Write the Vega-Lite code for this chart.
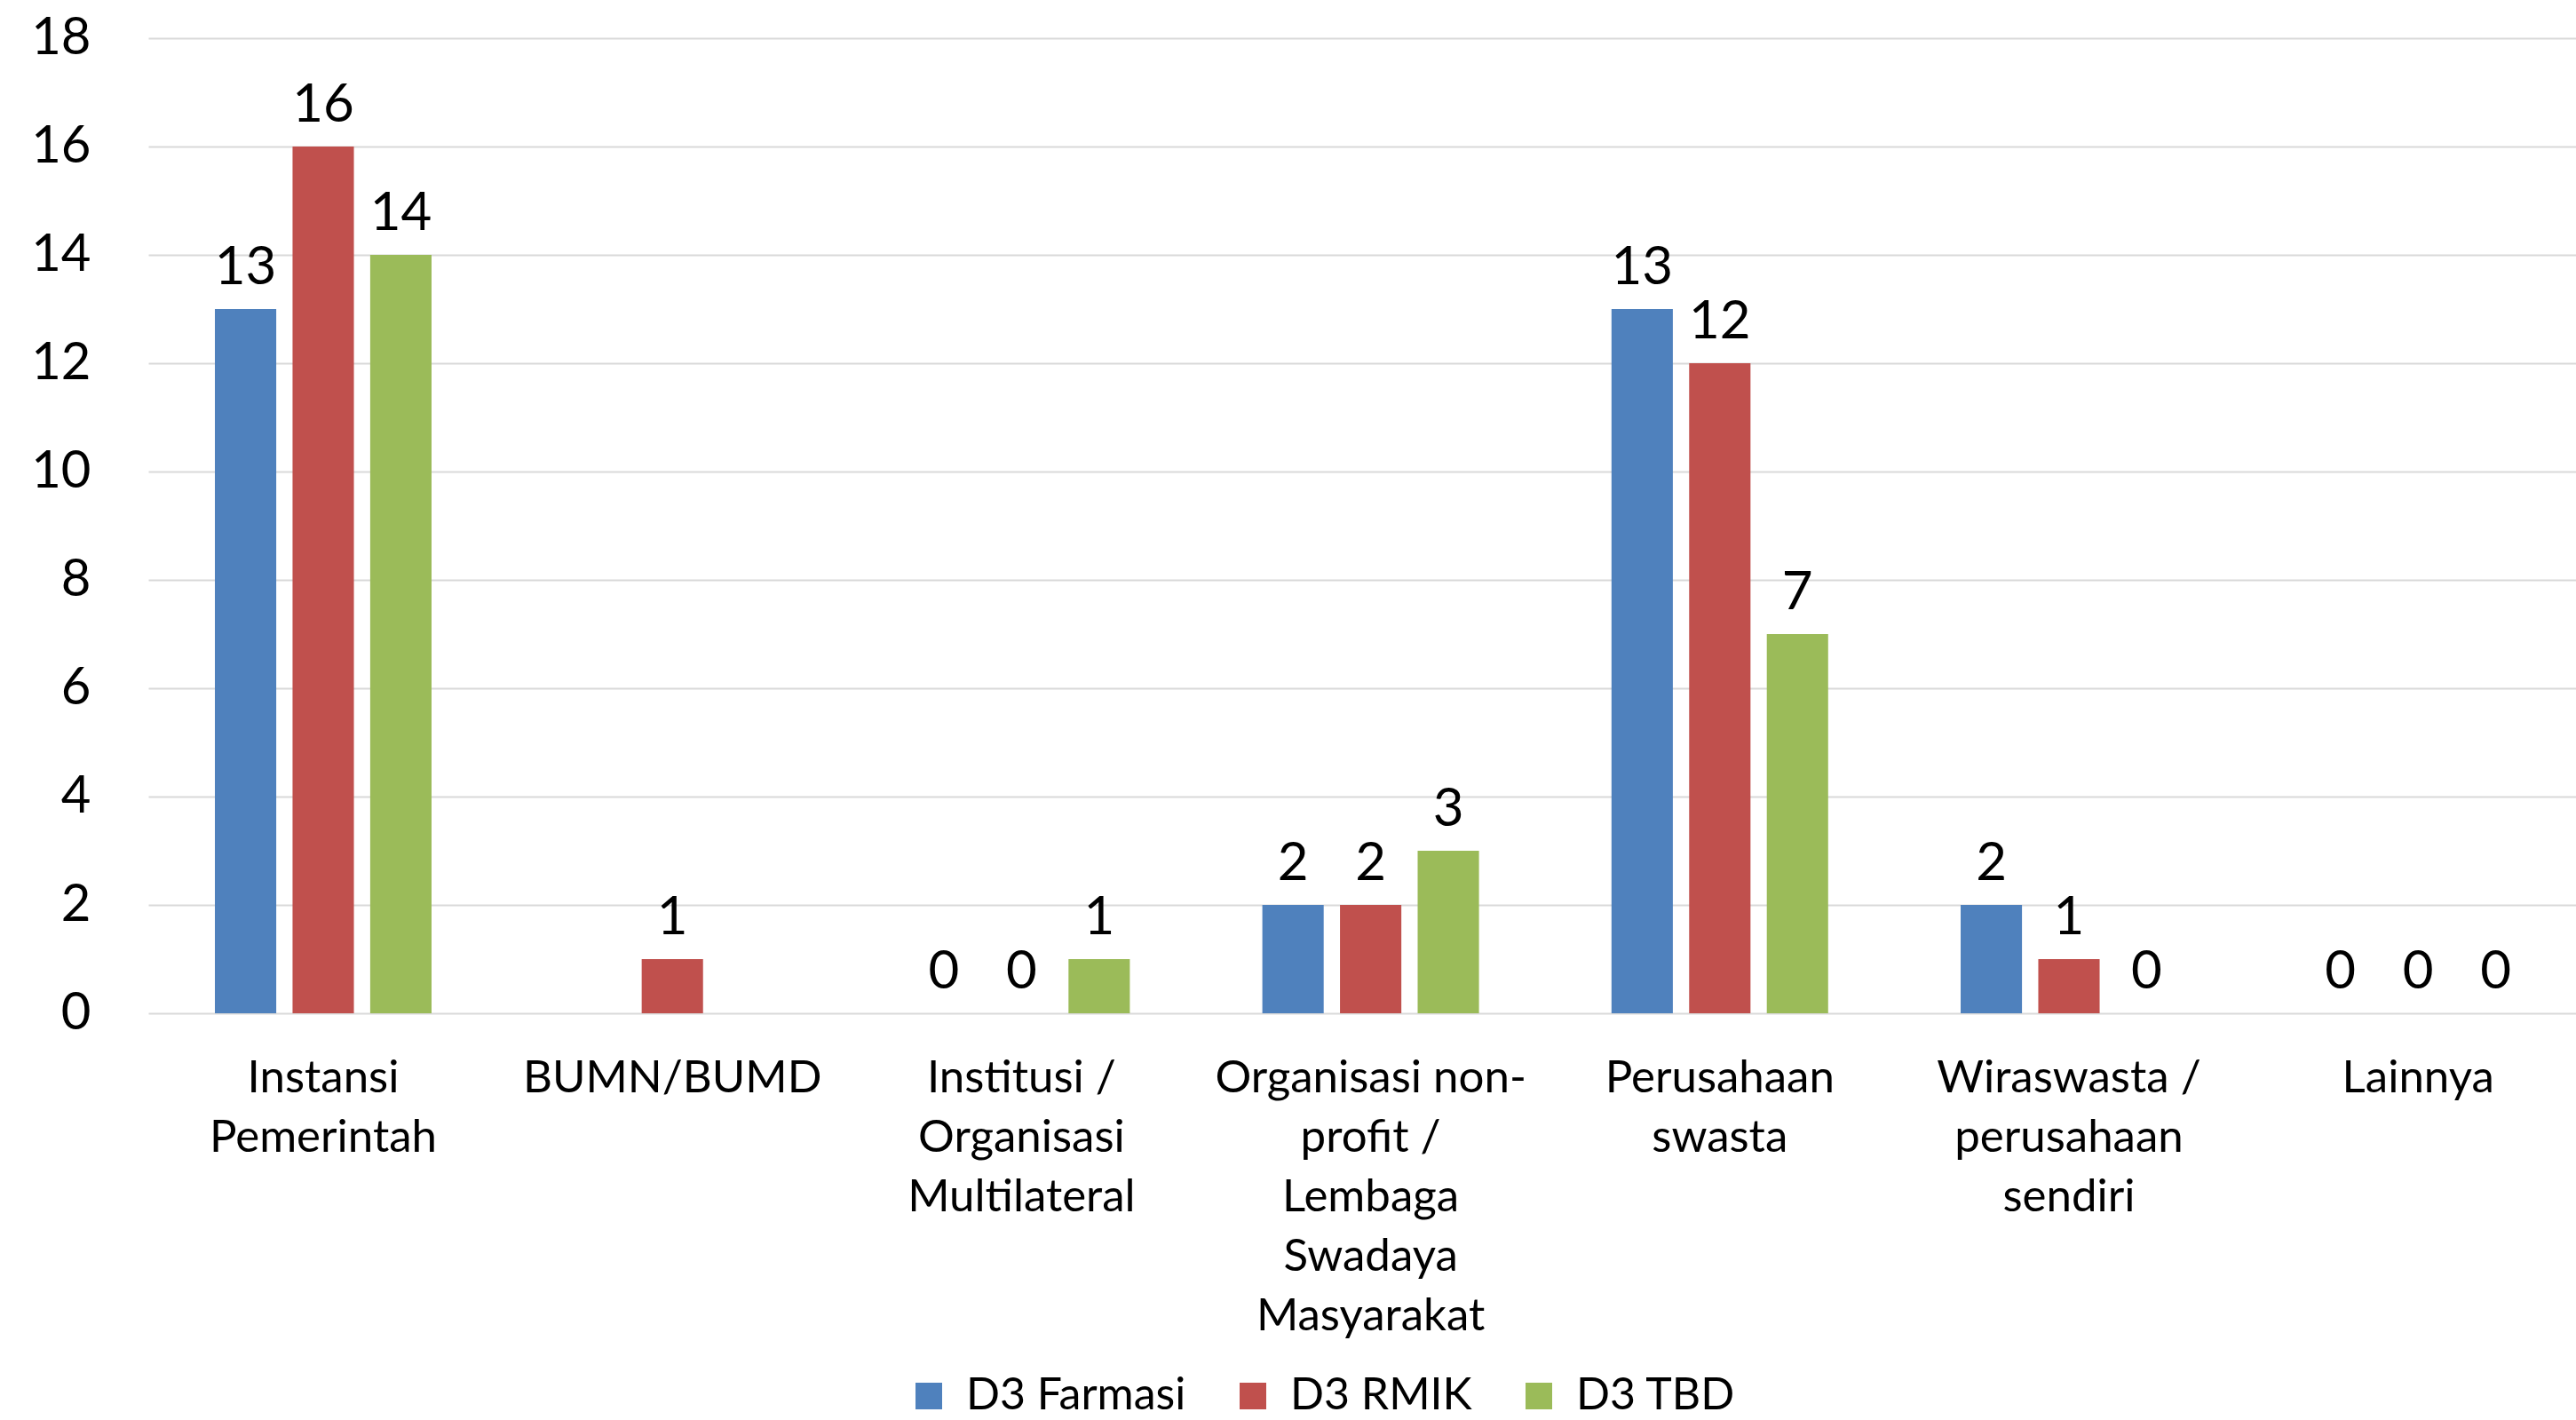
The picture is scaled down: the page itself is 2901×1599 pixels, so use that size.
{
  "$schema": "https://vega.github.io/schema/vega-lite/v6.json",
  "width": 2734,
  "height": 1098,
  "autosize": {"type": "none"},
  "padding": {"left": 167, "top": 43, "right": 0, "bottom": 458},
  "background": "white",
  "config": {
    "view": {"stroke": null},
    "font": "Lato",
    "axis": {"labelFont": "Lato", "labelColor": "#000000"},
    "legend": {"labelFont": "Lato"}
  },
  "data": {
    "values": [
      {"kategori": "Instansi Pemerintah", "prodi": "D3 Farmasi", "jumlah": 13},
      {"kategori": "Instansi Pemerintah", "prodi": "D3 RMIK", "jumlah": 16},
      {"kategori": "Instansi Pemerintah", "prodi": "D3 TBD", "jumlah": 14},
      {"kategori": "BUMN/BUMD", "prodi": "D3 RMIK", "jumlah": 1},
      {"kategori": "Institusi / Organisasi Multilateral", "prodi": "D3 Farmasi", "jumlah": 0},
      {"kategori": "Institusi / Organisasi Multilateral", "prodi": "D3 RMIK", "jumlah": 0},
      {"kategori": "Institusi / Organisasi Multilateral", "prodi": "D3 TBD", "jumlah": 1},
      {"kategori": "Organisasi non-profit / Lembaga Swadaya Masyarakat", "prodi": "D3 Farmasi", "jumlah": 2},
      {"kategori": "Organisasi non-profit / Lembaga Swadaya Masyarakat", "prodi": "D3 RMIK", "jumlah": 2},
      {"kategori": "Organisasi non-profit / Lembaga Swadaya Masyarakat", "prodi": "D3 TBD", "jumlah": 3},
      {"kategori": "Perusahaan swasta", "prodi": "D3 Farmasi", "jumlah": 13},
      {"kategori": "Perusahaan swasta", "prodi": "D3 RMIK", "jumlah": 12},
      {"kategori": "Perusahaan swasta", "prodi": "D3 TBD", "jumlah": 7},
      {"kategori": "Wiraswasta / perusahaan sendiri", "prodi": "D3 Farmasi", "jumlah": 2},
      {"kategori": "Wiraswasta / perusahaan sendiri", "prodi": "D3 RMIK", "jumlah": 1},
      {"kategori": "Wiraswasta / perusahaan sendiri", "prodi": "D3 TBD", "jumlah": 0},
      {"kategori": "Lainnya", "prodi": "D3 Farmasi", "jumlah": 0},
      {"kategori": "Lainnya", "prodi": "D3 RMIK", "jumlah": 0},
      {"kategori": "Lainnya", "prodi": "D3 TBD", "jumlah": 0}
    ]
  },
  "encoding": {
    "x": {
      "field": "kategori",
      "type": "nominal",
      "sort": null,
      "scale": {"paddingInner": 0.3795, "paddingOuter": 0.16635, "align": 0.5734, "round": false},
      "axis": {
        "title": null,
        "labelAngle": 0,
        "domain": false,
        "ticks": false,
        "labelFontSize": 51,
        "labelLineHeight": 67,
        "labelPadding": 48,
        "labelLimit": 0,
        "labelExpr": "datum.value == 'Instansi Pemerintah' ? ['Instansi', 'Pemerintah'] : datum.value == 'Institusi / Organisasi Multilateral' ? ['Institusi /', 'Organisasi', 'Multilateral'] : datum.value == 'Organisasi non-profit / Lembaga Swadaya Masyarakat' ? ['Organisasi non-', 'profit /', 'Lembaga', 'Swadaya', 'Masyarakat'] : datum.value == 'Perusahaan swasta' ? ['Perusahaan', 'swasta'] : datum.value == 'Wiraswasta / perusahaan sendiri' ? ['Wiraswasta /', 'perusahaan', 'sendiri'] : datum.value"
      }
    },
    "xOffset": {
      "field": "prodi",
      "type": "nominal",
      "sort": ["D3 Farmasi", "D3 RMIK", "D3 TBD"],
      "scale": {"paddingInner": 0.21, "paddingOuter": 0, "round": false}
    },
    "y": {
      "field": "jumlah",
      "type": "quantitative",
      "scale": {"domain": [0, 18], "nice": false},
      "axis": {
        "title": null,
        "values": [0, 2, 4, 6, 8, 10, 12, 14, 16, 18],
        "domain": false,
        "ticks": false,
        "labelFontSize": 58,
        "labelPadding": 65,
        "gridColor": "#d9d9d9",
        "gridWidth": 2
      }
    }
  },
  "layer": [
    {
      "mark": {"type": "bar"},
      "encoding": {
        "color": {
          "field": "prodi",
          "type": "nominal",
          "sort": ["D3 Farmasi", "D3 RMIK", "D3 TBD"],
          "scale": {"domain": ["D3 Farmasi", "D3 RMIK", "D3 TBD"], "range": ["#4F81BD", "#C0504D", "#9BBB59"]},
          "legend": {
            "title": null,
            "orient": "none",
            "direction": "horizontal",
            "legendX": 854,
            "legendY": 1504,
            "symbolType": "square",
            "symbolSize": 900,
            "symbolStrokeWidth": 0,
            "symbolOpacity": 1,
            "labelFontSize": 50,
            "labelColor": "#000000",
            "labelOffset": 17,
            "columnPadding": 50,
            "labelLimit": 0
          }
        }
      }
    },
    {
      "mark": {"type": "text", "baseline": "alphabetic", "dy": -28, "fontSize": 60, "color": "#000000", "font": "Lato"},
      "encoding": {
        "text": {"field": "jumlah", "type": "quantitative"}
      }
    }
  ]
}
